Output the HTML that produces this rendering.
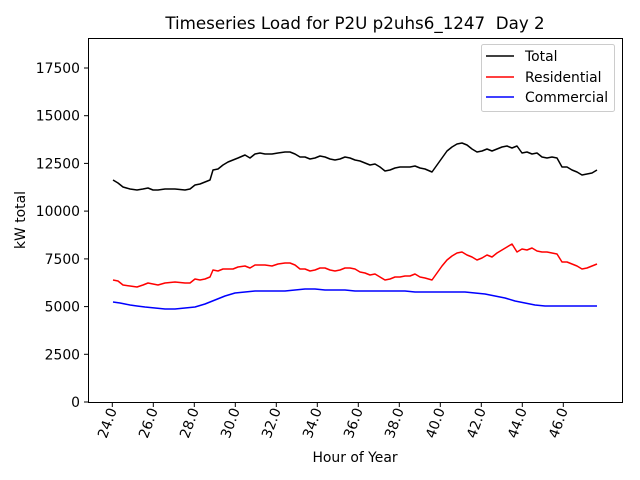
<!DOCTYPE html>
<html><head><style>body{margin:0;background:#fff}svg{display:block}text{font-family:"DejaVu Sans","Liberation Sans",sans-serif;fill:#000}</style></head>
<body>
<svg width="640" height="480" viewBox="0 0 640 480">
<rect width="640" height="480" fill="#fff"/>
<text x="355" y="29" font-size="16.7" text-anchor="middle">Timeseries Load for P2U p2uhs6_1247&#160; Day 2</text>
<g fill="none" stroke-width="1.5" stroke-linejoin="round">
<polyline stroke="#000" points="113,180 118,183 123,187 130,189 137,190 143,189 148,188 153,190 158,190 165,189 175,189 185,190 190,189 195,185 200,184 205,182 210,180 213,170 218,169 223,165 228,162 233,160 238,158 245,155 250,158 255,154 260,153 265,154 272,154 278,153 285,152 290,152 295,154 300,157 305,157 310,159 315,158 320,156 325,157 330,159 335,160 340,159 345,157 350,158 355,160 360,161 365,163 370,165 375,164 380,167 385,171 390,170 395,168 400,167 405,167 410,167 415,166 420,168 425,169 432,172 437,165 442,158 447,151 452,147 457,144 462,143 467,145 472,149 477,152 482,151 487,149 492,151 497,149 502,147 507,146 512,148 517,146 522,153 527,152 532,154 537,153 542,157 547,158 552,157 557,158 562,167 567,167 572,170 577,172 582,175 587,174 592,173 597,170"/>
<polyline stroke="#f00" points="113,280 118,281 123,285 130,286 137,287 143,285 148,283 153,284 158,285 165,283 175,282 185,283 190,283 195,279 200,280 205,279 210,277 213,270 218,271 223,269 228,269 233,269 238,267 245,266 250,268 255,265 260,265 265,265 272,266 278,264 285,263 290,263 295,265 300,269 305,269 310,271 315,270 320,268 325,268 330,270 335,271 340,270 345,268 350,268 355,269 360,272 365,273 370,275 375,274 380,277 385,280 390,279 395,277 400,277 405,276 410,276 415,274 420,277 425,278 432,280 437,273 442,266 447,260 452,256 457,253 462,252 467,255 472,257 477,260 482,258 487,255 492,257 497,253 502,250 507,247 512,244 517,252 522,249 527,250 532,248 537,251 542,252 547,252 552,253 557,254 562,262 567,262 572,264 577,266 582,269 587,268 592,266 597,264"/>
<polyline stroke="#00f" points="113,302 120,303 125,304 130,305 137,306 145,307 155,308 165,309 175,309 185,308 195,307 205,304 215,300 225,296 235,293 245,292 255,291 265,291 275,291 285,291 295,290 305,289 315,289 325,290 335,290 345,290 355,291 365,291 375,291 385,291 395,291 405,291 415,292 425,292 432,292 437,292 445,292 455,292 465,292 475,293 485,294 495,296 505,298 515,301 525,303 535,305 545,306 555,306 565,306 575,306 585,306 597,306"/>
</g>
<rect x="88.5" y="38.5" width="534" height="364" fill="none" stroke="#000" stroke-width="1"/>
<g stroke="#000" stroke-width="1">
<line x1="84" y1="402" x2="88" y2="402"/><line x1="84" y1="354.3" x2="88" y2="354.3"/><line x1="84" y1="306.6" x2="88" y2="306.6"/><line x1="84" y1="258.9" x2="88" y2="258.9"/><line x1="84" y1="211.1" x2="88" y2="211.1"/><line x1="84" y1="163.4" x2="88" y2="163.4"/><line x1="84" y1="115.7" x2="88" y2="115.7"/><line x1="84" y1="68" x2="88" y2="68"/>
</g>
<g font-size="13.9" text-anchor="end">
<text x="80" y="407">0</text><text x="80" y="359.3">2500</text><text x="80" y="311.6">5000</text><text x="80" y="263.9">7500</text><text x="80" y="216.1">10000</text><text x="80" y="168.4">12500</text><text x="80" y="120.7">15000</text><text x="80" y="73">17500</text>
</g>
<g stroke="#000" stroke-width="1">
<line x1="112.3" y1="403" x2="112.3" y2="407"/><line x1="153.3" y1="403" x2="153.3" y2="407"/><line x1="194.3" y1="403" x2="194.3" y2="407"/><line x1="235.3" y1="403" x2="235.3" y2="407"/><line x1="276.3" y1="403" x2="276.3" y2="407"/><line x1="317.3" y1="403" x2="317.3" y2="407"/><line x1="358.3" y1="403" x2="358.3" y2="407"/><line x1="399.3" y1="403" x2="399.3" y2="407"/><line x1="440.3" y1="403" x2="440.3" y2="407"/><line x1="481.3" y1="403" x2="481.3" y2="407"/><line x1="522.3" y1="403" x2="522.3" y2="407"/><line x1="563.3" y1="403" x2="563.3" y2="407"/>
</g>
<g font-size="13.9" text-anchor="end">
<text transform="translate(117,410) rotate(-70)">24.0</text>
<text transform="translate(158,410) rotate(-70)">26.0</text>
<text transform="translate(199,410) rotate(-70)">28.0</text>
<text transform="translate(240,410) rotate(-70)">30.0</text>
<text transform="translate(281,410) rotate(-70)">32.0</text>
<text transform="translate(322,410) rotate(-70)">34.0</text>
<text transform="translate(363,410) rotate(-70)">36.0</text>
<text transform="translate(404,410) rotate(-70)">38.0</text>
<text transform="translate(445,410) rotate(-70)">40.0</text>
<text transform="translate(486,410) rotate(-70)">42.0</text>
<text transform="translate(527,410) rotate(-70)">44.0</text>
<text transform="translate(568,410) rotate(-70)">46.0</text>
</g>
<text x="355" y="462" font-size="13.9" text-anchor="middle">Hour of Year</text>
<text transform="translate(25,220) rotate(-90)" font-size="13.9" text-anchor="middle">kW total</text>
<rect x="481.5" y="44.5" width="133" height="67" rx="2" fill="#fff" stroke="#ccc"/>
<line x1="486" y1="56" x2="514" y2="56" stroke="#000" stroke-width="1.5"/>
<line x1="486" y1="77" x2="514" y2="77" stroke="#f00" stroke-width="1.5"/>
<line x1="486" y1="97" x2="514" y2="97" stroke="#00f" stroke-width="1.5"/>
<g font-size="13.9"><text x="525" y="61">Total</text><text x="525" y="82">Residential</text><text x="525" y="102">Commercial</text></g>
</svg>
</body></html>
